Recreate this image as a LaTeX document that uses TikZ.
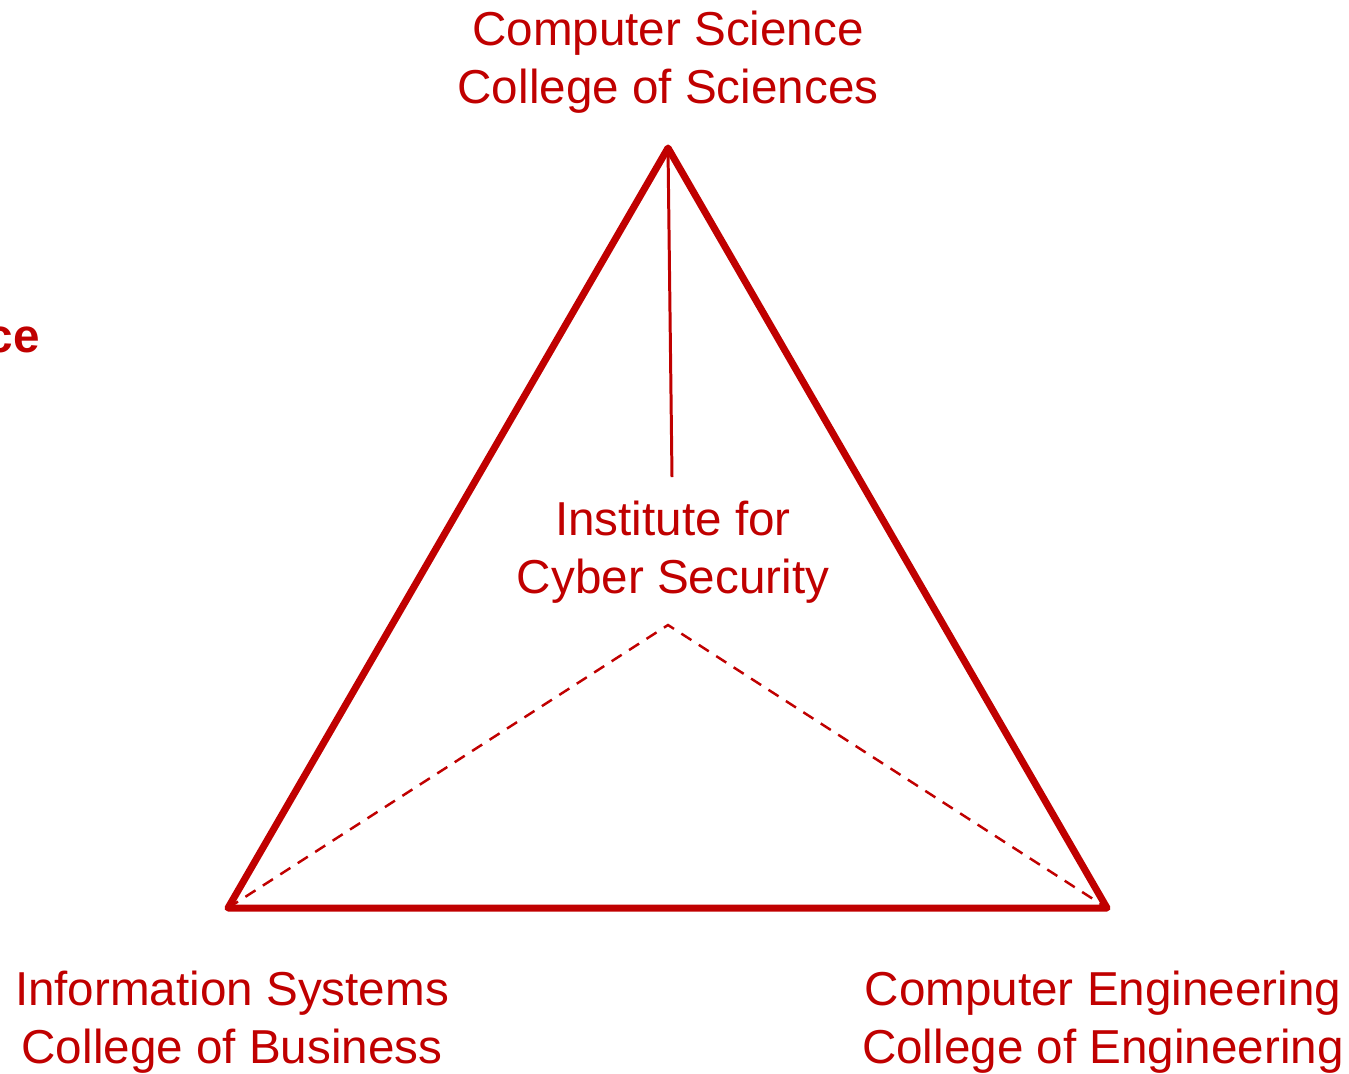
\documentclass[tikz,border=0pt]{standalone}
\usepackage{fontspec}
\setmainfont{Liberation Sans}
\usepackage{xcolor}
\usepackage{tikz}

\definecolor{deptred}{HTML}{C00000}

\tikzset{
    label text/.style={text=deptred,align=center,inner sep=0pt,
        font=\fontsize{27.1}{33}\selectfont},
}

\begin{document}
\begin{tikzpicture}[x=0.02cm,y=-0.02cm]
    \useasboundingbox (0,0) rectangle (1349,1073);

    % Corners
    \coordinate (top) at (668,148);
    \coordinate (left) at (228,908);
    \coordinate (right) at (1107,908);
    \coordinate (centre) at (668,625);
    \coordinate (linkend) at (672,477);

    % Labels (base = last line)
    \node[label text,anchor=base] (cs) at (668,103)
        {Computer Science\\College of Sciences};
    \node[label text,anchor=base] (is) at (232,1063)
        {Information Systems\\College of Business};
    \node[label text,anchor=base] (ce) at (1103,1063)
        {Computer Engineering\\College of Engineering};
    \node[label text,anchor=base] (ics) at (673,593)
        {Institute for\\Cyber Security};

    % Cut off text
    \node[label text,anchor=base east,font=\fontsize{27.1}{33}\selectfont\bfseries] (cut) at (40,352) {ce};

    % Triangle
    \draw[deptred,line width=4pt,line join=round] (top) -- (left) -- (right) -- cycle;

    % Link to the institute
    \draw[deptred,line width=1.7pt] (top) -- (linkend);

    % Dashed legs
    \draw[deptred,line width=1.4pt,dash pattern=on 6.8pt off 5pt]
        (left) -- (centre) -- (right);
\end{tikzpicture}
\end{document}
